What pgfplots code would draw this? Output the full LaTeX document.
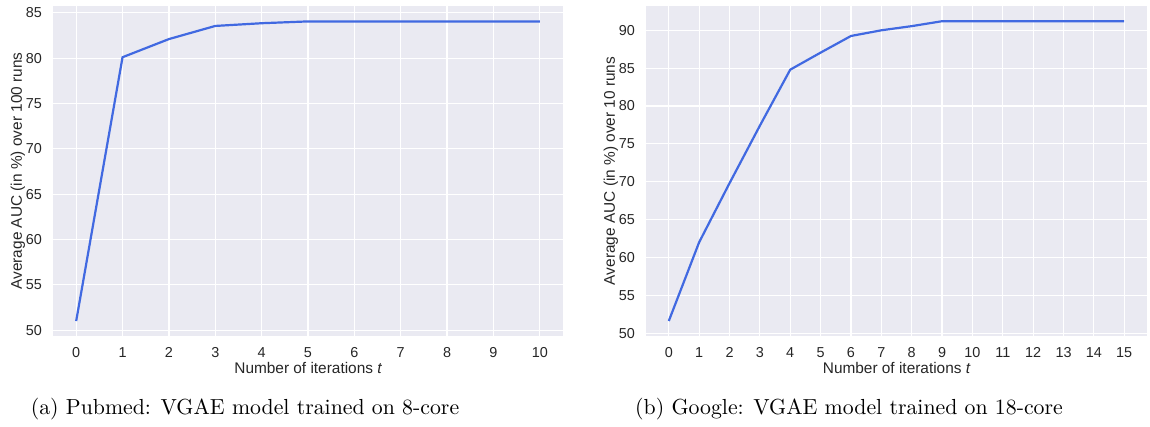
\documentclass[border=0pt]{standalone}
\usepackage{fontspec}
\usepackage{pgfplots}
\pgfplotsset{compat=1.18}
\newfontfamily\arial{Liberation Sans}
\definecolor{sbbg}{HTML}{EAEAF2}
\definecolor{sbline}{HTML}{4169E1}
\definecolor{sbtext}{HTML}{262626}

\pgfplotsset{
  darkgrid/.style={
    scale only axis,
    width=255pt, height=165pt,
    axis background/.style={fill=sbbg},
    axis line style={draw=none},
    grid=major,
    major grid style={white, line width=0.6pt},
    major tick length=0pt,
    tick style={draw=none},
    /pgf/number format/assume math mode=true,
    tick label style={font=\arial\fontsize{7.2}{8}\selectfont, text=sbtext},
    xticklabel style={yshift=-2.2pt},
    yticklabel style={xshift=-2pt},
    label style={font=\arial\fontsize{7.7}{9}\selectfont, text=sbtext},
    xlabel={Number of iterations {\itshape t}},
    xlabel style={yshift=4.3pt},
    ylabel shift=-6.5pt,
  }
}

\begin{document}
\begin{tikzpicture}
\path[use as bounding box] (-26.5pt,-45.5pt) rectangle (548.5pt,168pt);

\begin{axis}[darkgrid,
  at={(0pt,0pt)}, anchor=south west,
  width=255pt,
  xmin=-0.5, xmax=10.5, ymin=49.35, ymax=85.75,
  xtick={0,1,...,10}, ytick={50,55,...,85},
  ylabel={Average AUC (in \%) over 100 runs},
]
\addplot[sbline, line width=1.1pt] coordinates {
  (0,51.0) (1,80.1) (2,82.1) (3,83.55) (4,83.85) (5,84.05)
  (6,84.05) (7,84.05) (8,84.05) (9,84.05) (10,84.05)
};
\end{axis}

\begin{axis}[darkgrid,
  at={(296.5pt,0pt)}, anchor=south west,
  width=250.5pt,
  xmin=-0.75, xmax=15.75, ymin=49.62, ymax=93.21,
  xtick={0,1,...,15}, ytick={50,55,...,90},
  ylabel={Average AUC (in \%) over 10 runs},
]
\addplot[sbline, line width=1.1pt] coordinates {
  (0,51.6) (1,62.0) (2,69.8) (3,77.4) (4,84.8) (5,87.05) (6,89.25)
  (7,90.0) (8,90.55) (9,91.2) (10,91.2) (11,91.2) (12,91.2)
  (13,91.2) (14,91.2) (15,91.2)
};
\end{axis}

\node[font=\fontsize{10.9}{12}\selectfont] at (96pt,-36.5pt)
  {(a) Pubmed: VGAE model trained on 8-core};
\node[font=\fontsize{10.9}{12}\selectfont] at (398pt,-36.5pt)
  {(b) Google: VGAE model trained on 18-core};
\end{tikzpicture}
\end{document}
